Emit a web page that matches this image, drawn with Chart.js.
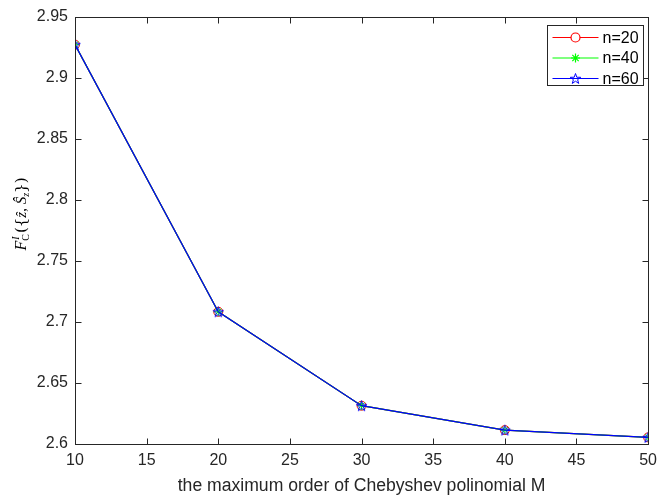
<!DOCTYPE html>
<html>
<head>
<meta charset="utf-8">
<script src="https://cdn.jsdelivr.net/npm/chart.js@4"></script>
<style>
  html, body { margin: 0; padding: 0; background: #fff; }
  #c { display: block; }
</style>
</head>
<body>
<canvas id="c" width="664" height="499"></canvas>
<script>
// chart data
const orders = [10, 20, 30, 40, 50];
const seriesNames = ['n=20', 'n=40', 'n=60'];
const n20 = [2.927, 2.708, 2.631, 2.611, 2.605];
const n40 = [2.927, 2.708, 2.631, 2.611, 2.605];
const n60 = [2.927, 2.708, 2.631, 2.611, 2.605];
const xTicks = [10, 15, 20, 25, 30, 35, 40, 45, 50];
const yTicks = [2.6, 2.65, 2.7, 2.75, 2.8, 2.85, 2.9, 2.95];

const AXIS = '#262626';
const FONT = "'Liberation Sans', Arial, sans-serif";

// MATLAB style pentagram marker
function pentagram(color, r) {
  const size = Math.ceil(r * 2 + 4);
  const cv = document.createElement('canvas');
  cv.width = size; cv.height = size;
  const g = cv.getContext('2d');
  const c = size / 2;
  g.beginPath();
  for (let i = 0; i < 10; i++) {
    const rad = i % 2 === 0 ? r : r * 0.4;
    const a = -Math.PI / 2 + i * Math.PI / 5;
    const px = c + rad * Math.cos(a), py = c + 0.5 + rad * Math.sin(a);
    if (i === 0) g.moveTo(px, py); else g.lineTo(px, py);
  }
  g.closePath();
  g.strokeStyle = color;
  g.lineWidth = 1;
  g.stroke();
  return cv;
}

function toPoints(ys) {
  return orders.map((x, i) => ({ x: x, y: ys[i] }));
}

// later series are drawn on top, as in MATLAB
const datasets = [
  { label: seriesNames[0], data: toPoints(n20), borderColor: '#ff0000', pointStyle: 'circle', pointRadius: 4.5, order: 3 },
  { label: seriesNames[1], data: toPoints(n40), borderColor: '#00ff00', pointStyle: 'star', pointRadius: 4.5, order: 2 },
  { label: seriesNames[2], data: toPoints(n60), borderColor: '#0000ff', pointStyle: pentagram('#0000ff', 5.5), pointRadius: 5.5, order: 1 }
].map(d => Object.assign(d, {
  borderWidth: 1.2,
  pointBorderWidth: 1,
  pointBorderColor: d.borderColor,
  pointBackgroundColor: 'rgba(0,0,0,0)',
  fill: false,
  tension: 0
}));

const frame = {
  id: 'frame',
  afterDraw(chart) {
    const ctx = chart.ctx;
    const a = chart.chartArea;
    const xs = chart.scales.x, ys = chart.scales.y;
    ctx.save();
    ctx.strokeStyle = AXIS;
    ctx.lineWidth = 1;
    const L = Math.round(a.left) + 0.5, R = Math.round(a.right) + 0.5;
    const T = Math.round(a.top) + 0.5, B = Math.round(a.bottom) + 0.5;
    ctx.strokeRect(L, T, R - L, B - T);
    const len = 6;
    ctx.beginPath();
    xTicks.forEach(v => {
      const p = Math.round(xs.getPixelForValue(v)) + 0.5;
      ctx.moveTo(p, B); ctx.lineTo(p, B - len);
      ctx.moveTo(p, T); ctx.lineTo(p, T + len);
    });
    yTicks.forEach(v => {
      const p = Math.round(ys.getPixelForValue(v)) + 0.5;
      ctx.moveTo(L, p); ctx.lineTo(L + len, p);
      ctx.moveTo(R, p); ctx.lineTo(R - len, p);
    });
    ctx.stroke();

    // legend
    const lx = 547.5, ly = 25.5, lw = 96, lh = 60;
    ctx.fillStyle = '#fff';
    ctx.fillRect(lx, ly, lw, lh);
    ctx.strokeStyle = AXIS;
    ctx.strokeRect(lx, ly, lw, lh);
    ctx.font = '16px ' + FONT;
    ctx.textBaseline = 'middle';
    chart.data.datasets.forEach((d, i) => {
      const y = ly + 12 + i * 20.5;
      ctx.strokeStyle = d.borderColor;
      ctx.lineWidth = 1.2;
      ctx.beginPath();
      ctx.moveTo(lx + 5, y); ctx.lineTo(lx + 51, y);
      ctx.stroke();
      Chart.helpers.drawPoint(ctx, {
        pointStyle: d.pointStyle, radius: d.pointRadius, borderWidth: 1, rotation: 0
      }, lx + 28, y);
      ctx.fillStyle = '#000';
      ctx.fillText(d.label, lx + 55, y + 1);
    });

    // y axis title (math)
    ctx.translate(21, 214);
    ctx.rotate(-Math.PI / 2);
    ctx.fillStyle = '#000';
    ctx.textBaseline = 'alphabetic';
    const serif = "'DejaVu Serif', 'Liberation Serif', serif";
    const lserif = "'Liberation Serif', serif";
    const parts = [
      { t: 'F', f: 'italic 16px ' + lserif, dy: 0 },
      { t: 'I', f: 'italic 10px ' + lserif, dy: -7, keep: true, gap: 1 },
      { t: 'C', f: '10px ' + lserif, dy: 3 },
      { t: '({', f: '15px ' + serif, dy: 0, gap: 1 },
      { t: 'ẑ', f: 'italic 15px ' + lserif, dy: 0 },
      { t: ', ', f: '15px ' + lserif, dy: 0 },
      { t: 'Ŝ', f: 'italic 15px ' + lserif, dy: 0 },
      { t: 'z', f: 'italic 10px ' + lserif, dy: 3 },
      { t: '})', f: '15px ' + serif, dy: 0 }
    ];
    let total = 0;
    parts.forEach(p => { ctx.font = p.f; p.w = ctx.measureText(p.t).width; });
    parts.forEach(p => { if (!p.keep) total += p.w + (p.gap || 0); });
    let x = -total / 2;
    parts.forEach(p => {
      ctx.font = p.f;
      ctx.fillText(p.t, x + (p.gap || 0), 5 + p.dy);
      if (!p.keep) x += p.w + (p.gap || 0);
    });
    ctx.restore();
  }
};

new Chart(document.getElementById('c'), {
  type: 'line',
  data: { datasets: datasets },
  plugins: [frame],
  options: {
    responsive: false,
    animation: false,
    devicePixelRatio: 1,
    layout: { padding: { top: 12, right: 13, left: 0, bottom: 0 } },
    plugins: { legend: { display: false }, tooltip: { enabled: false } },
    scales: {
      x: {
        type: 'linear', min: 10, max: 50,
        afterBuildTicks: s => { s.ticks = xTicks.map(v => ({ value: v })); },
        ticks: { color: AXIS, font: { family: FONT, size: 16 }, padding: 7, autoSkip: false, maxRotation: 0 },
        grid: { display: false, drawTicks: false },
        border: { display: false },
        title: { display: true, text: 'the maximum order of Chebyshev polinomial M', color: AXIS, font: { family: FONT, size: 17.6 }, padding: { top: 2, bottom: 2 } },
        afterFit: s => { s.height = 55.5; }
      },
      y: {
        type: 'linear', min: 2.6, max: 2.95,
        afterBuildTicks: s => { s.ticks = yTicks.map(v => ({ value: v })); },
        ticks: { color: AXIS, font: { family: FONT, size: 16 }, padding: 7, autoSkip: false, callback: v => String(+v.toFixed(2)) },
        grid: { display: false, drawTicks: false },
        border: { display: false },
        afterFit: s => { s.width = 75; }
      }
    }
  }
});
</script>
</body>
</html>
